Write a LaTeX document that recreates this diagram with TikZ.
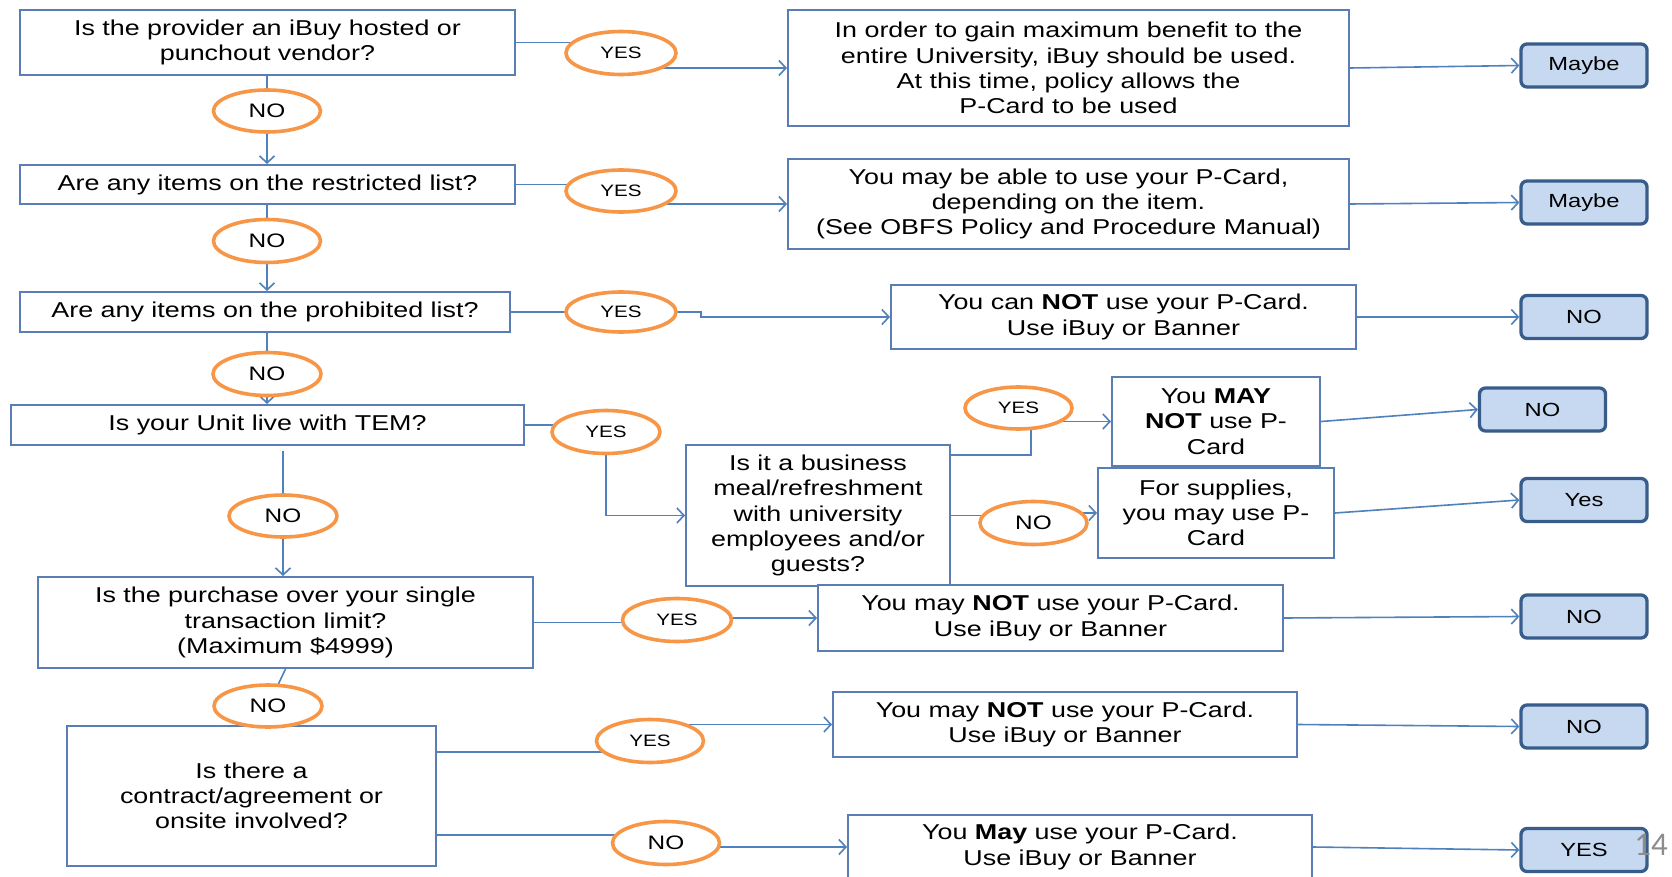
\documentclass[tikz,border=0pt]{standalone}
\usepackage{fontspec}
\setmainfont{Liberation Sans}[FakeStretch=1.25]
\newfontfamily\pagenumfont{Carlito}
\usetikzlibrary{shapes.geometric,arrows.meta,backgrounds}
\definecolor{boxline}{HTML}{5B7DB5}
\definecolor{connline}{HTML}{4F81BD}
\definecolor{ovalline}{HTML}{F79646}
\definecolor{resfill}{HTML}{C6D9F1}
\definecolor{resline}{HTML}{385D8A}
\definecolor{pagegray}{HTML}{8C8C8C}
\begin{document}
\begin{tikzpicture}[x=1pt,y=-1pt,
  qbox/.style={draw=boxline, line width=2pt, fill=white, align=center, inner sep=2pt, font=\fontsize{21.5}{25.3}\selectfont},
  oval/.style={ellipse, draw=ovalline, line width=3.6pt, fill=white, inner sep=0pt},
  yeslbl/.style={font=\fontsize{16.5}{18}\selectfont},
  nolbl/.style={font=\fontsize{19.5}{22}\selectfont},
  result/.style={draw=resline, line width=3.3pt, fill=resfill, rounded corners=6pt, minimum width=126pt, minimum height=43pt, inner sep=0pt, font=\fontsize{19}{22}\selectfont},
  conn/.style={draw=connline, line width=1.6pt},
  arr/.style={conn, -{Straight Barb[length=7pt,width=15pt]}},
]
\useasboundingbox (0,0) rectangle (1672,877);
\clip (0,0) rectangle (1672,877);

% question boxes
\node[qbox, minimum width=495pt, minimum height=65pt] (Q1) at (267.5,42.5) {Is the provider an iBuy hosted or\\punchout vendor?};
\node[qbox, minimum width=495pt, minimum height=39pt] (Q2) at (267.5,184.5) {Are any items on the restricted list?};
\node[qbox, minimum width=490pt, minimum height=40pt] (Q3) at (265,312) {Are any items on the prohibited list?};
\node[qbox, minimum width=513pt, minimum height=40pt] (Q4) at (267.5,425) {Is your Unit live with TEM?};
\node[qbox, minimum width=264pt, minimum height=141pt] (Q5) at (818,515.5) {Is it a business\\meal/refreshment\\with university\\employees and/or\\guests?};
\node[qbox, minimum width=495pt, minimum height=91pt] (Q6) at (285.5,622.5) {Is the purchase over your single\\transaction limit?\\(Maximum \$4999)};
\node[qbox, minimum width=369pt, minimum height=140pt] (Q7) at (251.5,796) {Is there a\\contract/agreement or\\onsite involved?};

% answer boxes
\node[qbox, minimum width=561pt, minimum height=116pt] (A1) at (1068.5,68) {In order to gain maximum benefit to the\\entire University, iBuy should be used.\\At this time, policy allows the\\P-Card to be used};
\node[qbox, minimum width=561pt, minimum height=90pt] (A2) at (1068.5,204) {You may be able to use your P-Card,\\depending on the item.\\(See OBFS Policy and Procedure Manual)};
\node[qbox, minimum width=465pt, minimum height=64pt] (A3) at (1123.5,317) {You can \textbf{NOT} use your P-Card.\\Use iBuy or Banner};
\node[qbox, minimum width=208pt, minimum height=89pt] (B1) at (1216,421.5) {You \textbf{MAY}\\\textbf{NOT} use P-\\Card};
\node[qbox, minimum width=236pt, minimum height=90pt] (B2) at (1216,513) {For supplies,\\you may use P-\\Card};
\node[qbox, minimum width=465pt, minimum height=66pt] (C1) at (1050.5,618) {You may \textbf{NOT} use your P-Card.\\Use iBuy or Banner};
\node[qbox, minimum width=464pt, minimum height=65pt] (C2) at (1065,724.5) {You may \textbf{NOT} use your P-Card.\\Use iBuy or Banner};
\node[qbox, minimum width=464pt, minimum height=64pt] (C3) at (1080,847) {You \textbf{May} use your P-Card.\\Use iBuy or Banner};

% result boxes
\node[result] (R1) at (1584,65.5) {Maybe};
\node[result] (R2) at (1584,202.5) {Maybe};
\node[result] (R3) at (1584,317) {NO};
\node[result] (R4) at (1542.5,409.5) {NO};
\node[result] (R5) at (1584,500) {Yes};
\node[result] (R6) at (1584,616.5) {NO};
\node[result] (R7) at (1584,726.5) {NO};
\node[result] (R8) at (1584,850) {YES};

% yes / no ovals
\node[oval, yeslbl, minimum width=110pt, minimum height=43pt] (Y1) at (621,53) {YES};
\node[oval, nolbl, minimum width=107pt, minimum height=42pt] (N1) at (267,111) {NO};
\node[oval, yeslbl, minimum width=110pt, minimum height=42pt] (Y2) at (621,191) {YES};
\node[oval, nolbl, minimum width=107pt, minimum height=43pt] (N2) at (267,241) {NO};
\node[oval, yeslbl, minimum width=110pt, minimum height=40pt] (Y3) at (621,312) {YES};
\node[oval, nolbl, minimum width=108pt, minimum height=43pt] (N3) at (267,374) {NO};
\node[oval, yeslbl, minimum width=108pt, minimum height=43pt] (Y4) at (606,432) {YES};
\node[oval, nolbl, minimum width=108pt, minimum height=42pt] (N4) at (283,516) {NO};
\node[oval, yeslbl, minimum width=107pt, minimum height=42pt] (Y5) at (1018.5,408) {YES};
\node[oval, nolbl, minimum width=107pt, minimum height=43pt] (N5) at (1033.5,523) {NO};
\node[oval, yeslbl, minimum width=109pt, minimum height=43pt] (Y6) at (677,620) {YES};
\node[oval, nolbl, minimum width=108pt, minimum height=42pt] (N6) at (268,706) {NO};
\node[oval, yeslbl, minimum width=107pt, minimum height=43pt] (Y7) at (650,741) {YES};
\node[oval, nolbl, minimum width=107pt, minimum height=43pt] (N7) at (666,843) {NO};

\node[font=\pagenumfont\fontsize{33}{36}\selectfont, text=pagegray, inner sep=0pt] (pg) at (1651,845) {14};

\coordinate (q5a) at ([yshift=-11pt]Q5.north east);
\coordinate (q7a) at ([yshift=-27pt]Q7.north east);
\coordinate (q7b) at ([yshift=32pt]Q7.south east);

\begin{scope}[on background layer]
\fill[white] (0,0) rectangle (1672,877);
\draw[conn] (Q1.east) -- (Q1.east -| Y1.center);
\draw[arr] (Y1.center |- A1.west) -- (A1.west);
\draw[arr] (A1.east) -- (R1.west);
\draw[conn] (N1.center |- Q1.south) -- (N1.center);
\draw[arr] (N1.center) -- (N1.center |- Q2.north);
\draw[conn] (Q2.east) -- (Q2.east -| Y2.center);
\draw[arr] (Y2.center |- A2.west) -- (A2.west);
\draw[arr] (A2.east) -- (R2.west);
\draw[conn] (N2.center |- Q2.south) -- (N2.center);
\draw[arr] (N2.center) -- (N2.center |- Q3.north);
\draw[conn] (Q3.east) -- (Q3.east -| Y3.center);
\draw[arr] (Y3.center) -- ++(80,0) |- (A3.west);
\draw[arr] (A3.east) -- (R3.west);
\draw[conn] (N3.center |- Q3.south) -- (N3.center);
\draw[arr] (N3.center) -- (N3.center |- Q4.north);
\draw[conn] (Q4.east) -- (Q4.east -| Y4.center);
\draw[arr] (Y4.center) |- (Q5.west);
\draw[conn] ([yshift=-5pt]N4.center |- Q4.south) -- (N4.center);
\draw[arr] (N4.center) -- (N4.center |- Q6.north);
\draw[conn] (q5a) -| ([xshift=12.5pt]Y5.center);
\draw[arr] (Y5.center |- B1.west) -- (B1.west);
\draw[arr] (B1.east) -- (R4.west);
\draw[conn] (Q5.east) -- (Q5.east -| N5.center);
\draw[arr] (N5.center |- B2.west) -- (B2.west);
\draw[arr] (B2.east) -- (R5.west);
\draw[conn] (Q6.east) -- (Q6.east -| Y6.center);
\draw[arr] (Y6.center |- C1.west) -- (C1.west);
\draw[arr] (C1.east) -- (R6.west);
\draw[conn] (Q6.south) -- (N6.center);
\draw[conn] (q7a) -- (q7a -| Y7.center);
\draw[arr] (Y7.center |- C2.west) -- (C2.west);
\draw[arr] (C2.east) -- (R7.west);
\draw[conn] (q7b) -- (q7b -| N7.center);
\draw[arr] (N7.center |- C3.west) -- (C3.west);
\draw[arr] (C3.east) -- (R8.west);
\end{scope}
\end{tikzpicture}
\end{document}
